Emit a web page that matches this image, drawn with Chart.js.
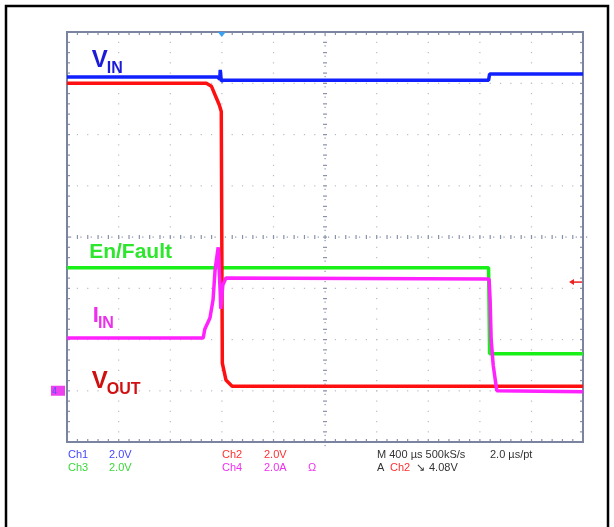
<!DOCTYPE html>
<html>
<head>
<meta charset="utf-8">
<script src="https://cdn.jsdelivr.net/npm/chart.js@4.4.1/dist/chart.umd.min.js"></script>
<style>
  html, body { margin: 0; padding: 0; background: #fff; }
  #wrap { width: 614px; height: 527px; position: relative; }
</style>
</head>
<body>
<div id="wrap"><canvas id="scope"></canvas></div>
<script>
// ── Trace data (x in divisions 0..10, y in divisions -4..4) ───────
const vinTime   = [0, 2.92, 2.96, 2.97, 2.99, 3.03, 8.17, 8.19, 10];
const vinDiv    = [3.12, 3.12, 3.08, 3.26, 3.04, 3.06, 3.06, 3.18, 3.18];

const voutTime  = [0, 2.7, 2.8, 2.87, 2.95, 2.99, 3.01, 3.08, 3.2, 10];
const voutDiv   = [3.0, 3.0, 2.94, 2.77, 2.58, 2.45, -2.46, -2.79, -2.91, -2.91];

const enTime    = [0, 8.17, 8.19, 10];
const enDiv     = [-0.6, -0.6, -2.28, -2.28];

const iinTime   = [0, 2.64, 2.67, 2.77, 2.83, 2.87, 2.93, 2.97, 2.98, 3.02, 3.08, 8.18, 8.2, 8.22, 8.26, 8.3, 8.33, 10];
const iinDiv    = [-1.97, -1.97, -1.8, -1.58, -1.23, -0.64, -0.2, -1.1, -1.4, -0.94, -0.8, -0.82, -1.23, -2.0, -2.5, -2.79, -3.0, -3.02];

// ── Trace labels: [main, sub, x div, y div, color, size] ──────────
const labelMain = ['V', 'En/Fault', 'I', 'V'];
const labelSub  = ['IN', '', 'IN', 'OUT'];
const labelX    = [0.48, 0.43, 0.5, 0.48];
const labelY    = [3.32, -0.41, -1.66, -2.95];
const labelCol  = ['#1c1cd8', '#2ee62e', '#ee30ee', '#d01010'];
const labelSize = [24, 21, 22, 24];

// ── Status text under the graticule ───────────────────────────────
const statusText = [
  ['Ch1', 68, 0, '#4646ff'], ['2.0V', 109, 0, '#4646ff'],
  ['Ch3', 68, 1, '#3ad83a'], ['2.0V', 109, 1, '#3ad83a'],
  ['Ch2', 222, 0, '#ff3030'], ['2.0V', 264, 0, '#ff3030'],
  ['Ch4', 222, 1, '#ee30ee'], ['2.0A', 264, 1, '#ee30ee'], ['\u03A9', 308, 1, '#ee30ee'],
  ['M 400 \u00B5s 500kS/s', 377, 0, '#333'], ['2.0 \u00B5s/pt', 490, 0, '#333'],
  ['A', 377, 1, '#333'], ['Ch2', 390, 1, '#ff3030'], ['\u2198', 416, 1, '#333'], ['4.08V', 429, 1, '#333']
];

const trigPos = 3.0;     // horizontal trigger position (div)
const trigLevel = -0.88; // Ch2 trigger level (div)
const ch4Ground = -3.0;  // Ch4 ground marker (div)

function pts(t, v) { return t.map((x, i) => ({ x, y: v[i] })); }

// ── Graticule plugin ──────────────────────────────────────────────
const graticule = {
  id: 'graticule',
  beforeDatasetsDraw(chart) {
    const { ctx, chartArea: a, scales: { x, y } } = chart;
    ctx.save();
    // outer frame
    ctx.strokeStyle = '#000';
    ctx.lineWidth = 2.5;
    ctx.strokeRect(6, 6, 602, 540);

    ctx.fillStyle = '#b8bcc8';
    // dotted division lines
    for (let i = 1; i < 10; i++) {
      if (i === 5) continue;
      const px = x.getPixelForValue(i);
      for (let j = -20; j <= 20; j++) {
        ctx.fillRect(px - 0.5, y.getPixelForValue(j / 5) - 0.5, 1.2, 1.2);
      }
    }
    for (let k = -3; k <= 3; k++) {
      if (k === 0) continue;
      const py = y.getPixelForValue(k);
      for (let j = 0; j <= 50; j++) {
        ctx.fillRect(x.getPixelForValue(j / 5) - 0.5, py - 0.5, 1.2, 1.2);
      }
    }
    // centre crosshair with minor ticks
    const cx = x.getPixelForValue(5), cy = y.getPixelForValue(0);
    ctx.fillStyle = '#8a92aa';
    for (let j = -20; j <= 20; j++) {
      const py = y.getPixelForValue(j / 5);
      ctx.fillRect(cx - 2, py - 0.5, 4, 1.2);
      ctx.fillRect(cx - 0.5, py + 3, 1.2, 1.2);
    }
    for (let j = 0; j <= 50; j++) {
      const px = x.getPixelForValue(j / 5);
      ctx.fillRect(px - 0.5, cy - 2, 1.2, 4);
      ctx.fillRect(px + 3, cy - 0.5, 1.2, 1.2);
    }
    // edge ticks
    for (let j = 0; j <= 50; j++) {
      const px = x.getPixelForValue(j / 5);
      ctx.fillRect(px - 0.5, a.top, 1.2, 3);
      ctx.fillRect(px - 0.5, a.bottom - 3, 1.2, 3);
    }
    for (let j = -20; j <= 20; j++) {
      const py = y.getPixelForValue(j / 5);
      ctx.fillRect(a.left, py - 0.5, 3, 1.2);
      ctx.fillRect(a.right - 3, py - 0.5, 3, 1.2);
    }
    // border
    ctx.strokeStyle = '#7a84a0';
    ctx.lineWidth = 2;
    ctx.strokeRect(a.left, a.top, a.right - a.left, a.bottom - a.top);
    ctx.restore();
  },
  afterDraw(chart) {
    const { ctx, chartArea: a, scales: { x, y } } = chart;
    ctx.save();
    // trace labels with subscripts
    ctx.textBaseline = 'alphabetic';
    labelMain.forEach((m, i) => {
      const px = x.getPixelForValue(labelX[i]);
      const py = y.getPixelForValue(labelY[i]);
      ctx.fillStyle = labelCol[i];
      ctx.font = `bold ${labelSize[i]}px "Liberation Sans", Arial, sans-serif`;
      ctx.fillText(m, px, py);
      if (labelSub[i]) {
        const w = ctx.measureText(m).width;
        ctx.font = `bold 16px "Liberation Sans", Arial, sans-serif`;
        ctx.fillText(labelSub[i], px + w - 1, py + 6);
      }
    });
    // trigger position marker (top)
    const tx = x.getPixelForValue(trigPos);
    ctx.fillStyle = '#3aa0f0';
    ctx.beginPath();
    ctx.moveTo(tx - 4, a.top); ctx.lineTo(tx + 4, a.top); ctx.lineTo(tx, a.top + 5); ctx.closePath();
    ctx.fill();
    // trigger level arrow (right)
    const ly = y.getPixelForValue(trigLevel);
    ctx.strokeStyle = '#ee2020'; ctx.fillStyle = '#ee2020'; ctx.lineWidth = 1.5;
    ctx.beginPath(); ctx.moveTo(a.right - 12, ly); ctx.lineTo(a.right - 1, ly); ctx.stroke();
    ctx.beginPath(); ctx.moveTo(a.right - 14, ly); ctx.lineTo(a.right - 9, ly - 3); ctx.lineTo(a.right - 9, ly + 3); ctx.closePath(); ctx.fill();
    // Ch4 ground marker (left)
    const gy = y.getPixelForValue(ch4Ground);
    ctx.fillStyle = '#ee40ee';
    ctx.fillRect(a.left - 16, gy - 5, 14, 10);
    ctx.fillStyle = '#5050ff';
    ctx.font = '8px "DejaVu Sans", sans-serif';
    ctx.fillText('4', a.left - 15, gy + 3);
    // status text
    ctx.font = '11px "Liberation Sans", Arial, sans-serif';
    statusText.forEach(([t, px, row, c]) => {
      ctx.fillStyle = c;
      ctx.fillText(t, px, a.bottom + 16 + row * 13);
    });
    ctx.restore();
  }
};

const common = { pointRadius: 0, borderWidth: 3.5, tension: 0, fill: false, borderJoinStyle: 'bevel' };

new Chart(document.getElementById('scope'), {
  type: 'line',
  data: {
    datasets: [
      { ...common, label: 'IIN', data: pts(iinTime, iinDiv), borderColor: '#ff22ff' },
      { ...common, label: 'VOUT', data: pts(voutTime, voutDiv), borderColor: '#ff1010' },
      { ...common, label: 'En/Fault', data: pts(enTime, enDiv), borderColor: '#18f018' },
      { ...common, label: 'VIN', data: pts(vinTime, vinDiv), borderColor: '#1020ff' }
    ]
  },
  options: {
    responsive: true,
    maintainAspectRatio: false,
    animation: false,
    layout: { padding: { left: 67, right: 31, top: 32, bottom: 85 } },
    plugins: { legend: { display: false }, tooltip: { enabled: false } },
    scales: {
      x: { type: 'linear', min: 0, max: 10, display: false },
      y: { type: 'linear', min: -4, max: 4, display: false }
    }
  },
  plugins: [graticule]
});
</script>
</body>
</html>
